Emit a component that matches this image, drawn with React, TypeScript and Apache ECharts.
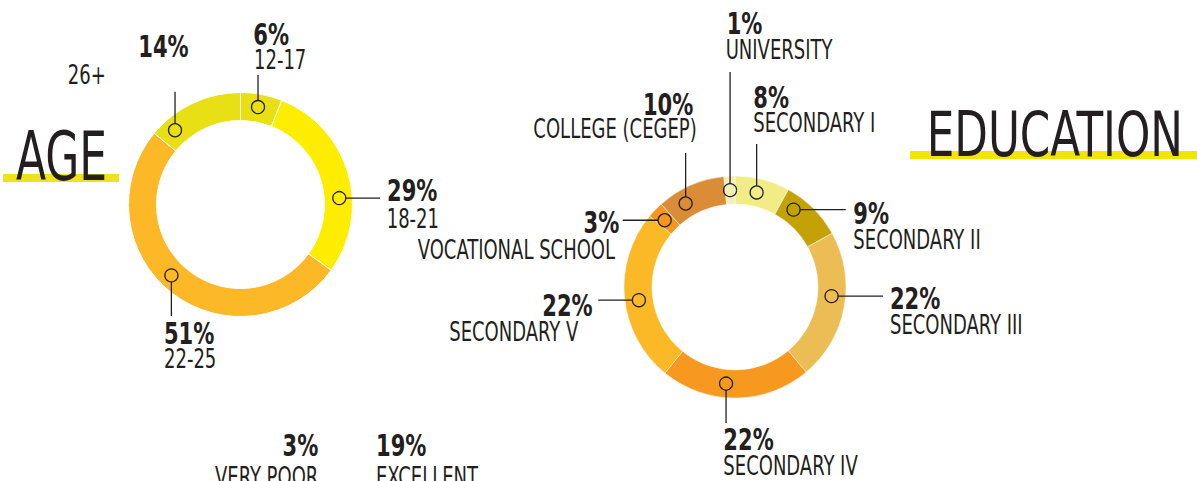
import React, { useEffect, useRef } from 'react';
import * as echarts from 'echarts';

const INK = '#231F20';
const FONT = "'Liberation Sans Narrow', 'DejaVu Sans Condensed', 'Roboto Condensed', sans-serif";

// ---------- AGE ----------
const ageCategories = ['12-17', '18-21', '22-25', '26+'];
const ageValues = [6, 29, 51, 14];
const ageColors = ['#E8DF15', '#FFED00', '#FDB827', '#E8DF15'];
// where each callout marker sits along the ring (percent of full circle, clockwise from top)
const ageMarkerAt = [2.83, 23.97, 62.3, 88.5];

// ---------- EDUCATION ----------
const eduCategories = [
  'SECONDARY I',
  'SECONDARY II',
  'SECONDARY III',
  'SECONDARY IV',
  'SECONDARY V',
  'VOCATIONAL SCHOOL',
  'COLLEGE (CEGEP)',
  'UNIVERSITY',
];
const eduPercentText = ['8%', '9%', '22%', '22%', '22%', '3%', '10%', '1%'];
// arc sizes as drawn in the picture
const eduSliceShare = [8, 9, 22, 22, 25.2, 2.4, 10, 1.6];
const eduColors = ['#F1EC86', '#C4A207', '#EDBD55', '#F7991E', '#FBB927', '#F6961C', '#DA8C37', '#F3EFB8'];
const eduMarkerAt = [3.58, 10.31, 26.5, 51.47, 72.83, 87.08, 91.5, 99.19];

// ---------- cut-off rating chart (only its labels are visible) ----------
const ratingPercentText = ['3%', '19%'];
const ratingNames = ['VERY POOR', 'EXCELLENT'];

type Dir = 'up' | 'down' | 'left' | 'right';
type Callout = {
  dir: Dir;
  len: number;
  pct: [number, number, 'left' | 'right'];
  name: [number, number, 'left' | 'right'];
};

const ageCallouts: Callout[] = [
  { dir: 'up', len: 32.1, pct: [-4.7, -40.3, 'left'], name: [-4, -15.5, 'left'] },
  { dir: 'right', len: 40.7, pct: [7, -7.3, 'left'], name: [6.7, 20.7, 'left'] },
  { dir: 'down', len: 40.6, pct: [-7.4, 17.3, 'left'], name: [-7.4, 42.3, 'left'] },
  { dir: 'up', len: 38.5, pct: [-36.7, -45, 'left'], name: [-107.3, -17.2, 'left'] },
];

const eduCallouts: Callout[] = [
  { dir: 'up', len: 48.4, pct: [-3.4, -46.7, 'left'], name: [-3.4, -21.8, 'left'] },
  { dir: 'right', len: 52.2, pct: [7.6, 3.7, 'left'], name: [7.6, 29.9, 'left'] },
  { dir: 'right', len: 51.4, pct: [7, 1.9, 'left'], name: [7, 28.1, 'left'] },
  { dir: 'down', len: 39.4, pct: [-2.7, 16.5, 'left'], name: [-2.7, 42.8, 'left'] },
  { dir: 'left', len: 40.6, pct: [-5.6, 5.1, 'right'], name: [-20, 31, 'right'] },
  { dir: 'left', len: 41.9, pct: [-3.4, 2.3, 'right'], name: [-7.7, 29.3, 'right'] },
  { dir: 'up', len: 50.5, pct: [7.7, -48.8, 'right'], name: [11.1, -24.3, 'right'] },
  { dir: 'up', len: 118.1, pct: [-3.4, -48.7, 'left'], name: [-4.4, -22.8, 'left'] },
];

const MARK_R = 6.5;
const PCT_SIZE = 30;
const PCT_SCALE = 0.78;
const NAME_SIZE = 26;
const NAME_SCALE = 0.77;

const DIRS: Record<Dir, [number, number]> = {
  up: [0, -1],
  down: [0, 1],
  left: [-1, 0],
  right: [1, 0],
};

function makeRenderItem(pctTexts: string[], nameTexts: string[], callouts: Callout[]) {
  return (params: any, api: any) => {
    const i = api.value(2) as number;
    const p = api.coord([api.value(0), api.value(1)]);
    const x = p[0];
    const y = p[1];
    const c = callouts[i];
    const v = DIRS[c.dir];
    const ex = x + v[0] * c.len;
    const ey = y + v[1] * c.len;
    return {
      type: 'group',
      children: [
        {
          type: 'line',
          shape: { x1: x + v[0] * MARK_R, y1: y + v[1] * MARK_R, x2: ex, y2: ey },
          style: { stroke: INK, lineWidth: 1.3 },
        },
        {
          type: 'circle',
          shape: { cx: x, cy: y, r: MARK_R },
          style: { fill: 'none', stroke: INK, lineWidth: 1.3 },
        },
        {
          type: 'text',
          x: ex + c.pct[0],
          y: ey + c.pct[1],
          scaleX: PCT_SCALE,
          style: {
            text: pctTexts[i],
            fontSize: PCT_SIZE,
            fontWeight: 'bold',
            fontFamily: FONT,
            fill: INK,
            align: c.pct[2],
            verticalAlign: 'middle',
          },
        },
        {
          type: 'text',
          x: ex + c.name[0],
          y: ey + c.name[1],
          scaleX: NAME_SCALE,
          style: {
            text: nameTexts[i],
            fontSize: NAME_SIZE,
            fontFamily: FONT,
            fill: INK,
            align: c.name[2],
            verticalAlign: 'middle',
          },
        },
      ],
    };
  };
}

const hiddenAxis = {
  axisLine: { show: false },
  axisTick: { show: false },
  axisLabel: { show: false },
  splitLine: { show: false },
};

export default function App() {
  const ref = useRef<HTMLDivElement>(null);

  useEffect(() => {
    if (!ref.current) return;
    const chart = echarts.init(ref.current, undefined, { renderer: 'svg' });

    const option: any = {
      animation: false,
      backgroundColor: '#ffffff',
      polar: [
        { center: [240.5, 204.5], radius: 112 },
        { center: [735, 287], radius: 111 },
      ],
      angleAxis: [
        { polarIndex: 0, type: 'value', min: 0, max: 100, startAngle: 90, clockwise: true, ...hiddenAxis },
        { polarIndex: 1, type: 'value', min: 0, max: 100, startAngle: 90, clockwise: true, ...hiddenAxis },
      ],
      radiusAxis: [
        { polarIndex: 0, type: 'value', min: 0, max: 112, ...hiddenAxis },
        { polarIndex: 1, type: 'value', min: 0, max: 111, ...hiddenAxis },
      ],
      series: [
        {
          type: 'pie',
          center: [240.5, 204.5],
          radius: [84, 112],
          startAngle: 90,
          clockwise: true,
          silent: true,
          label: { show: false },
          labelLine: { show: false },
          emphasis: { disabled: true },
          itemStyle: { borderColor: '#ffffff', borderWidth: 1 },
          data: ageCategories.map((name, i) => ({
            name,
            value: ageValues[i],
            itemStyle: { color: ageColors[i] },
          })),
        },
        {
          type: 'pie',
          center: [735, 287],
          radius: [83, 111],
          startAngle: 90,
          clockwise: true,
          silent: true,
          label: { show: false },
          labelLine: { show: false },
          emphasis: { disabled: true },
          itemStyle: { borderColor: 'rgba(255,255,255,0.6)', borderWidth: 0.8 },
          data: eduCategories.map((name, i) => ({
            name,
            value: eduSliceShare[i],
            itemStyle: { color: eduColors[i] },
          })),
        },
        {
          type: 'custom',
          coordinateSystem: 'polar',
          polarIndex: 0,
          silent: true,
          clip: false,
          z: 5,
          renderItem: makeRenderItem(
            ageValues.map((v) => `${v}%`),
            ageCategories,
            ageCallouts
          ),
          data: ageMarkerAt.map((a, i) => [99, a, i]),
        },
        {
          type: 'custom',
          coordinateSystem: 'polar',
          polarIndex: 1,
          silent: true,
          clip: false,
          z: 5,
          renderItem: makeRenderItem(eduPercentText, eduCategories, eduCallouts),
          data: eduMarkerAt.map((a, i) => [97, a, i]),
        },
      ],
      graphic: [
        { type: 'rect', z: 1, shape: { x: 3, y: 174, width: 116, height: 8 }, style: { fill: '#ECE31A' } },
        {
          type: 'text',
          z: 2,
          x: 16,
          y: 157.5,
          scaleX: 0.73,
          style: { text: 'AGE', fontSize: 67, fontFamily: FONT, fill: INK, align: 'left', verticalAlign: 'middle' },
        },
        { type: 'rect', z: 1, shape: { x: 910, y: 151, width: 287, height: 8 }, style: { fill: '#F2E600' } },
        {
          type: 'text',
          z: 2,
          x: 926.7,
          y: 133.7,
          scaleX: 0.77,
          style: { text: 'EDUCATION', fontSize: 63, fontFamily: FONT, fill: INK, align: 'left', verticalAlign: 'middle' },
        },
        {
          type: 'text',
          z: 2,
          x: 318.3,
          y: 445.8,
          scaleX: PCT_SCALE,
          style: { text: ratingPercentText[0], fontSize: PCT_SIZE, fontWeight: 'bold', fontFamily: FONT, fill: INK, align: 'right', verticalAlign: 'middle' },
        },
        {
          type: 'text',
          z: 2,
          x: 318.3,
          y: 476.2,
          scaleX: NAME_SCALE,
          style: { text: ratingNames[0], fontSize: NAME_SIZE, fontFamily: FONT, fill: INK, align: 'right', verticalAlign: 'middle' },
        },
        {
          type: 'text',
          z: 2,
          x: 376,
          y: 445.8,
          scaleX: PCT_SCALE,
          style: { text: ratingPercentText[1], fontSize: PCT_SIZE, fontWeight: 'bold', fontFamily: FONT, fill: INK, align: 'left', verticalAlign: 'middle' },
        },
        {
          type: 'text',
          z: 2,
          x: 376,
          y: 476.2,
          scaleX: NAME_SCALE,
          style: { text: ratingNames[1], fontSize: NAME_SIZE, fontFamily: FONT, fill: INK, align: 'left', verticalAlign: 'middle' },
        },
      ],
    };

    chart.setOption(option);
    return () => chart.dispose();
  }, []);

  return (
    <div
      ref={ref}
      style={{ position: 'fixed', left: 0, top: 0, width: 1197, height: 481, overflow: 'hidden' }}
    />
  );
}
